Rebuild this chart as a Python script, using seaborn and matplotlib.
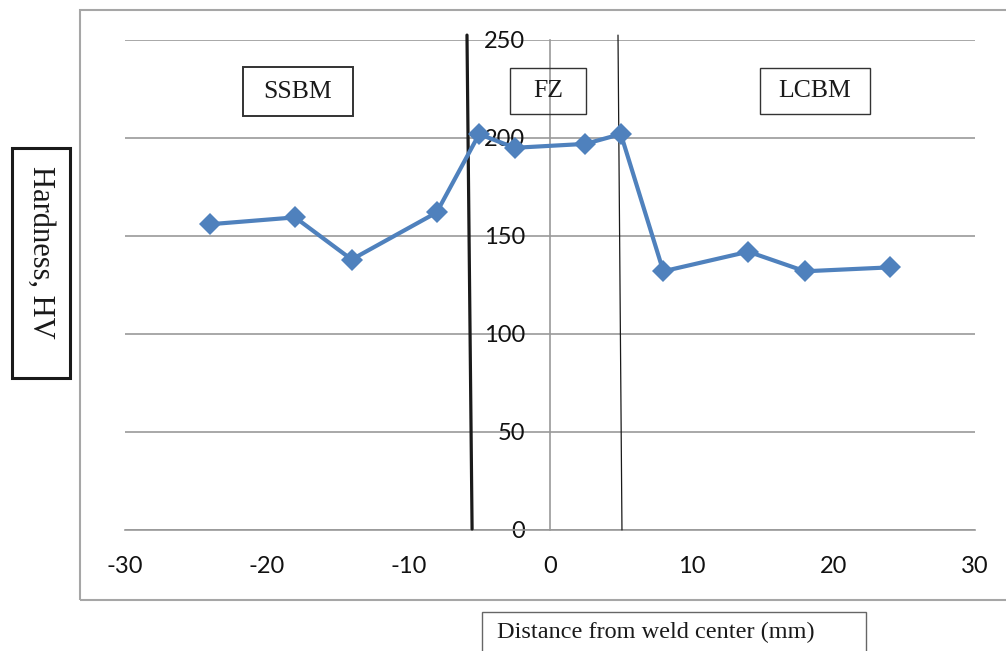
"""
Hardness profile across the weld
"""

import matplotlib.pyplot as plt
import seaborn as sns
from matplotlib.patches import Rectangle

# data
distance_mm = [-24, -18, -14, -8, -5, -2.5, 2.5, 5, 8, 14, 18, 24]
hardness_hv = [156, 159.5, 138, 162, 202, 195, 197, 202, 132, 142, 132, 134]

x_ticks = [-30, -20, -10, 0, 10, 20, 30]
y_ticks = [0, 50, 100, 150, 200, 250]

# zone boundaries (drawn as slightly slanted lines, as in the original)
fusion_line_x = [-5.86, -5.5]
fusion_line_y = [252.5, 0.5]
lcbm_line_x = [4.8, 5.08]
lcbm_line_y = [252.5, 0]

zone_names = ["SSBM", "FZ", "LCBM"]

W, H = 1006, 651

sns.set_style("white")
plt.rcParams["font.family"] = ["Lato", "DejaVu Sans"]
plt.rcParams["axes.unicode_minus"] = False

fig = plt.figure(figsize=(W / 100, H / 100), dpi=100)
ax = fig.add_axes([125 / W, 1 - 530 / H, 850 / W, 490 / H])


def px_rect(x0, y0, x1, y1, **kw):
    """rectangle given in pixel coords of the picture (y down)"""
    r = Rectangle((x0 / W, 1 - y1 / H), (x1 - x0) / W, (y1 - y0) / H,
                  transform=fig.transFigure, fill=False, clip_on=False, **kw)
    fig.add_artist(r)


# chart area frame
px_rect(80, 10, 1010, 600, edgecolor="#a6a6a6", linewidth=1.5)

sns.lineplot(x=distance_mm, y=hardness_hv, ax=ax, color="#4f81bd",
             linewidth=3, marker="D", markersize=11, markeredgewidth=0,
             sort=False, zorder=5)

ax.plot(fusion_line_x, fusion_line_y, color="#1a1a1a", linewidth=2.3,
        clip_on=False, zorder=4)
ax.plot(lcbm_line_x, lcbm_line_y, color="#1a1a1a", linewidth=0.9,
        clip_on=False, zorder=4)

ax.set_xlim(-30, 30)
ax.set_ylim(0, 250)
ax.set_xticks(x_ticks)
ax.set_yticks(y_ticks)
ax.set_xticklabels([str(v) for v in x_ticks])
ax.set_yticklabels([str(v) for v in y_ticks])

ax.grid(axis="y", color="#999999", linewidth=1.2)
ax.set_axisbelow(True)

for side in ["top", "right"]:
    ax.spines[side].set_visible(False)
ax.spines["left"].set_position(("data", 0))
ax.spines["left"].set_color("#999999")
ax.spines["left"].set_linewidth(1.2)
ax.spines["bottom"].set_color("#999999")
ax.spines["bottom"].set_linewidth(1.2)

ax.tick_params(axis="y", length=0, pad=18, labelsize=17, labelcolor="#111111")
ax.tick_params(axis="x", direction="out", length=6, width=1.2, color="#999999",
               pad=13, labelsize=17, labelcolor="#111111")
ax.set_xlabel("")
ax.set_ylabel("")

# zone label boxes
zone_boxes = [(243, 67, 353, 116), (510, 68, 586, 114), (760, 68, 870, 114)]
for name, (x0, y0, x1, y1) in zip(zone_names, zone_boxes):
    px_rect(x0, y0, x1, y1, edgecolor="#333333", linewidth=1.4 if name == "SSBM" else 1.0)
    fig.text((x0 + x1) / 2 / W, 1 - (y0 + y1) / 2 / H, name,
             family="Liberation Serif", fontsize=18.5, color="#1a1a1a",
             ha="center", va="center")

# axis title boxes
px_rect(12, 148, 70, 378, edgecolor="#1a1a1a", linewidth=2.2)
fig.text(41 / W, 1 - 252 / H, "Hardness, HV", family="Liberation Serif",
         fontsize=22, rotation=-90, ha="center", va="center", color="#1a1a1a")

px_rect(482, 612, 866, 660, edgecolor="#666666", linewidth=1.0)
fig.text(497 / W, 1 - 632 / H, "Distance from weld center (mm)",
         family="Liberation Serif", fontsize=17.5, ha="left", va="center",
         color="#1a1a1a")

plt.savefig("out.png", dpi=100)
